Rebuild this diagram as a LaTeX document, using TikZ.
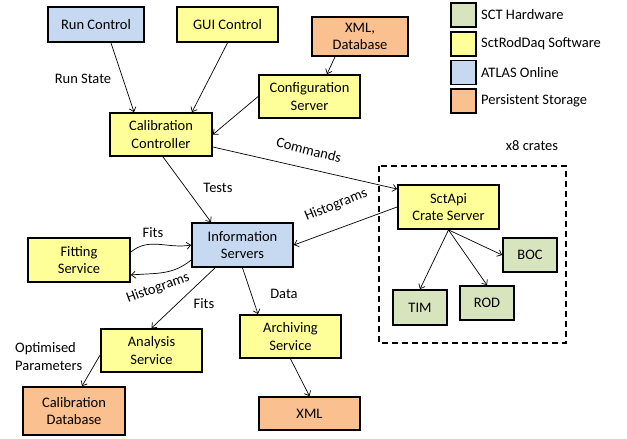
\documentclass[tikz,border=0pt]{standalone}
\usepackage{fontspec}
\setmainfont{Carlito}
\usetikzlibrary{arrows.meta,calc}
\definecolor{hwgreen}{HTML}{D7E4BD}
\definecolor{swyellow}{HTML}{FFFF99}
\definecolor{onlblue}{HTML}{C6D9F1}
\definecolor{storeorange}{HTML}{FAC090}
\tikzset{
  box/.style={draw=black, line width=1.8pt, align=center, inner sep=0pt,
    font=\fontsize{14.5}{17.5}\selectfont},
  hw/.style={box, fill=hwgreen},
  sw/.style={box, fill=swyellow},
  onl/.style={box, fill=onlblue},
  store/.style={box, fill=storeorange},
  conn/.style={line width=0.7pt, -{Straight Barb[length=4pt,width=7pt,line width=0.7pt]}},
  lbl/.style={font=\fontsize{14.5}{17.5}\selectfont, inner sep=0pt, align=center},
}
\begin{document}
\begin{tikzpicture}[x=1pt,y=-1pt]
\useasboundingbox (0,0) rectangle (627,439);

% crate enclosure
\draw[line width=1.8pt, dash pattern=on 6pt off 4pt] (379,166) rectangle (566,343);

% nodes
\node[onl,   minimum width=96pt,  minimum height=35pt] (run)    at (96,24.5)   {Run Control};
\node[sw,    minimum width=101pt, minimum height=35pt] (gui)    at (227.5,24.5) {GUI Control};
\node[store, minimum width=96pt,  minimum height=39pt] (xmldb)  at (360,36.5)  {XML,\\Database};
\node[sw,    minimum width=101pt, minimum height=43pt] (conf)   at (309.5,96.5) {Configuration\\Server};
\node[sw,    minimum width=102pt, minimum height=43pt] (calc)   at (161,134.5) {Calibration\\Controller};
\node[sw,    minimum width=102pt, minimum height=44pt] (fit)    at (79,260)    {Fitting\\Service};
\node[onl,   minimum width=101pt, minimum height=44pt] (info)   at (242.5,245) {Information\\Servers};
\node[sw,    minimum width=101pt, minimum height=44pt] (sctapi) at (448.5,207) {SctApi\\Crate Server};
\node[hw,    minimum width=54pt,  minimum height=34pt] (boc)    at (530,255)   {BOC};
\node[hw,    minimum width=54pt,  minimum height=34pt] (rod)    at (487,303)   {ROD};
\node[hw,    minimum width=54pt,  minimum height=35pt] (tim)    at (420,307.5) {TIM};
\node[sw,    minimum width=101pt, minimum height=43pt] (ana)    at (151.5,350.5) {Analysis\\Service};
\node[sw,    minimum width=101pt, minimum height=43pt] (arch)   at (290.5,336.5) {Archiving\\Service};
\node[store, minimum width=102pt, minimum height=48pt] (caldb)  at (74,411)    {Calibration\\Database};
\node[store, minimum width=101pt, minimum height=33pt] (xml)    at (309.5,413.5) {XML};

% legend
\node[hw,    minimum width=25pt, minimum height=24pt] (lg1) at (463.5,15)   {};
\node[sw,    minimum width=25pt, minimum height=24pt] (lg2) at (463.5,44)   {};
\node[onl,   minimum width=25pt, minimum height=24pt] (lg3) at (463.5,72.5) {};
\node[store, minimum width=25pt, minimum height=24pt] (lg4) at (463.5,101)  {};
\node[lbl, anchor=west] (lt1) at (481,15)   {SCT Hardware};
\node[lbl, anchor=west] (lt2) at (481,44)   {SctRodDaq Software};
\node[lbl, anchor=west] (lt3) at (481,72.5) {ATLAS Online};
\node[lbl, anchor=west] (lt4) at (481,101)  {Persistent Storage};
\node[lbl] (crates) at (532,146) {x8 crates};

% connectors
\draw[conn] ([xshift=15pt]run.south) -- ([xshift=-27pt]calc.north);
\draw[conn] (gui.south) -- ([xshift=31pt]calc.north);
\draw[conn] (conf.west) -- (calc.east);
\draw[conn] ([xshift=-25pt]xmldb.south) -- ([xshift=17.5pt]conf.north);
\draw[conn] ([xshift=2pt]calc.south) -- ([xshift=-31.5pt]info.north);
\draw[conn] ([yshift=-12.5pt]calc.east) -- ([yshift=18pt]sctapi.west);
\draw[conn] (sctapi.west) -- (info.east);
\draw[conn] ([yshift=8pt]fit.east) to[out=40,in=190] (info.west);
\draw[conn] ([yshift=-15pt]info.west) to[out=220,in=5] ([yshift=-15pt]fit.east);
\draw[conn] ([xshift=-27.5pt]info.south) -- (ana.north);
\draw[conn] (info.south) -- ([xshift=-32.5pt]arch.north);
\draw[conn] ([yshift=-4.5pt]ana.west) -- ([xshift=8pt]caldb.north);
\draw[conn] (arch.south) -- (xml.north);
\draw[conn] (sctapi.south) -- (tim.north);
\draw[conn] (sctapi.south) -- (rod.north);
\draw[conn] (sctapi.south) -- (boc.west);

% connector labels
\node[lbl] (lrun)   at (83,79)    {Run State};
\node[lbl, rotate=-14] (lcmd) at (309,150) {Commands};
\node[lbl, rotate=22] (lhist1) at (336,205) {Histograms};
\node[lbl] (ltests) at (218,188)  {Tests};
\node[lbl] (lfits1) at (153,233)  {Fits};
\node[lbl, rotate=20] (lhist2) at (158,288) {Histograms};
\node[lbl] (lfits2) at (204,304)  {Fits};
\node[lbl] (ldata)  at (284,294)  {Data};
\node[lbl, align=left, anchor=west] (lopt) at (15,356.5) {Optimised\\Parameters};
\end{tikzpicture}
\end{document}
